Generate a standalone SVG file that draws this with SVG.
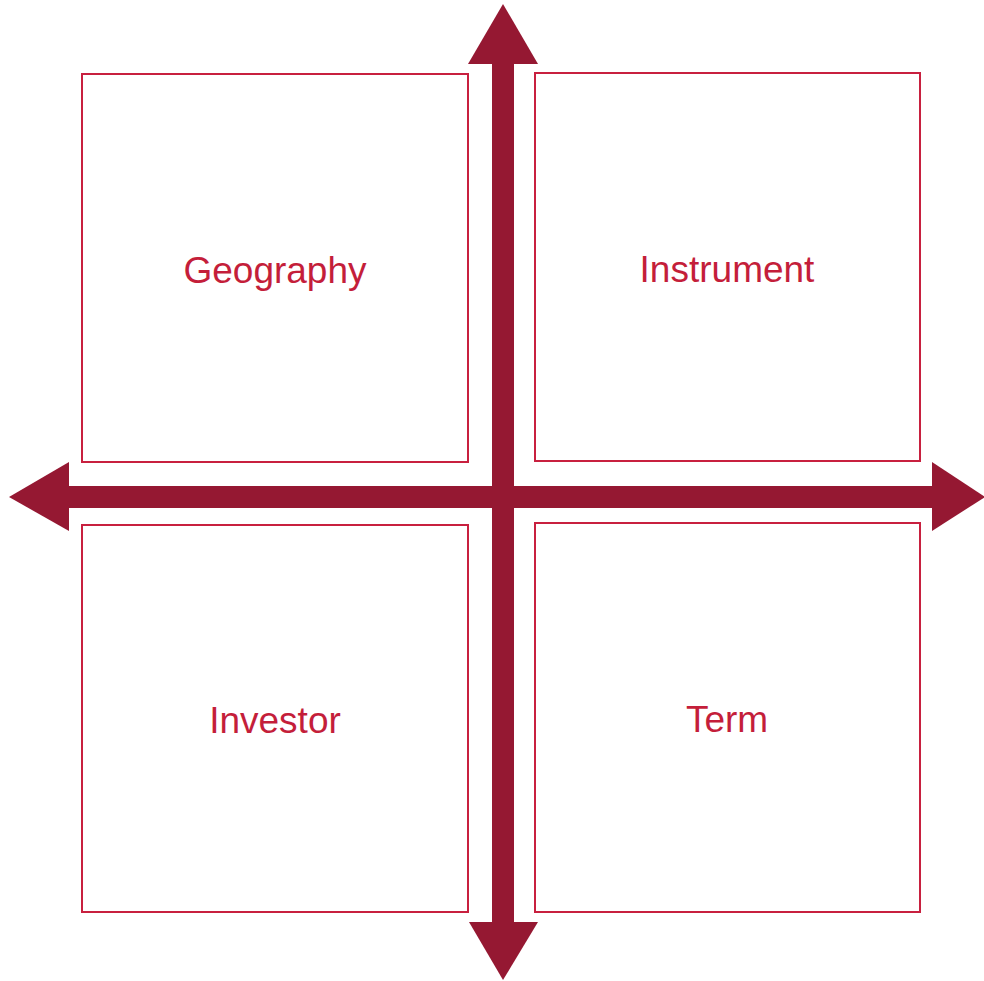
<svg xmlns="http://www.w3.org/2000/svg" width="984" height="981" viewBox="0 0 984 981">
<style>
.box{fill:#fff;stroke:#c8203f;stroke-width:2}
.lbl{font-family:"Liberation Sans",Arial,sans-serif;font-size:37px;fill:#c41e3a;text-anchor:middle}
.axis{fill:#951832}
</style>
<rect width="984" height="981" fill="#fff"/>
<g id="geography"><rect class="box" x="82" y="74" width="386" height="388"/><text class="lbl" x="275" y="283">Geography</text></g>
<g id="instrument"><rect class="box" x="535" y="73" width="385" height="388"/><text class="lbl" x="727" y="282">Instrument</text></g>
<g id="investor"><rect class="box" x="82" y="525" width="386" height="387"/><text class="lbl" x="275" y="733">Investor</text></g>
<g id="term"><rect class="box" x="535" y="523" width="385" height="389"/><text class="lbl" x="727" y="732">Term</text></g>
<g id="connectors">
<rect class="axis" x="492" y="60" width="22" height="866"/>
<polygon class="axis" points="503,4 538,64 468,64"/>
<polygon class="axis" points="503,980 538,922 469,922"/>
<rect class="axis" x="66" y="486" width="870" height="22"/>
<polygon class="axis" points="9,497 69,462 69,531"/>
<polygon class="axis" points="985,497 932,462 932,531"/>
</g>
</svg>
